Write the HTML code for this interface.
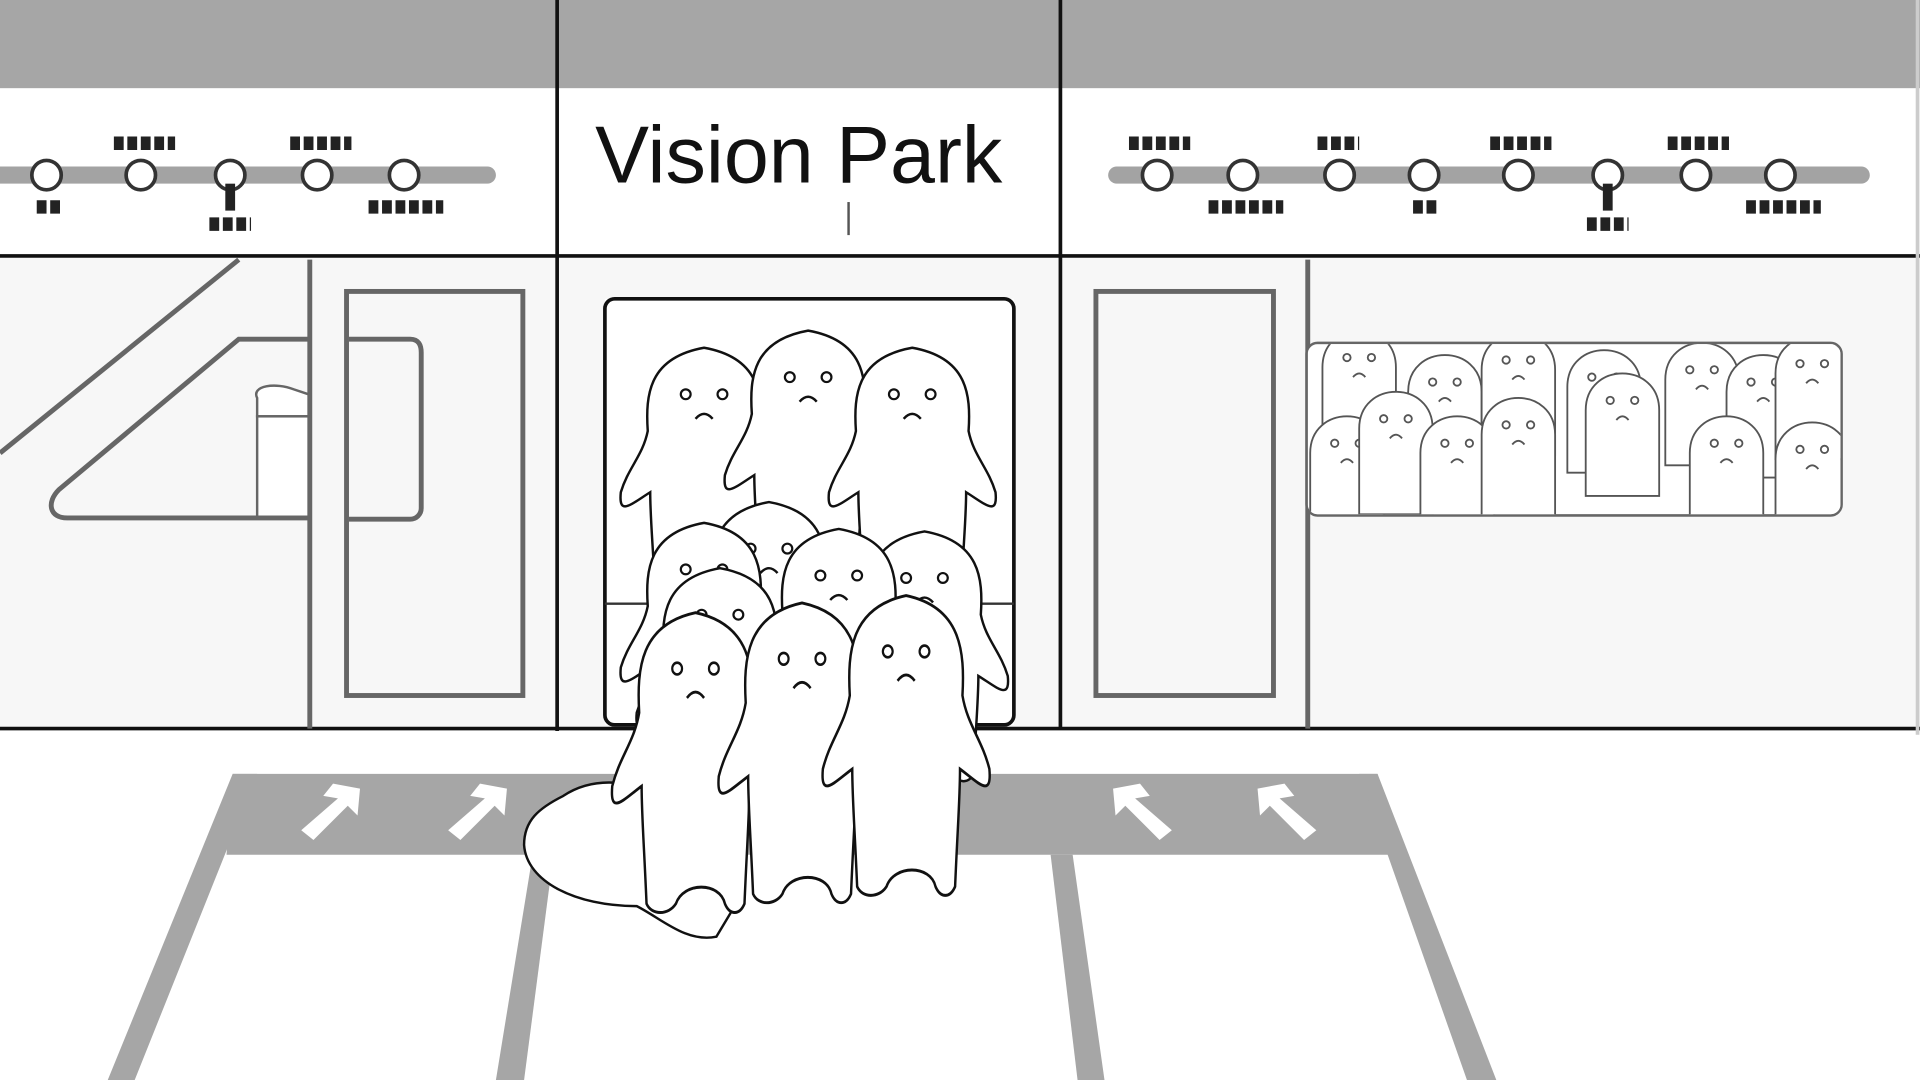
<!DOCTYPE html>
<html><head><meta charset="utf-8"><style>
html,body{margin:0;padding:0;background:#fff;}
svg{display:block;}
</style></head><body>
<svg width="1920" height="1080" viewBox="0 0 1568 882" preserveAspectRatio="none" xmlns="http://www.w3.org/2000/svg">
<defs>
<g id="gh">
<path d="M-40,190 C-42,150 -44,130 -44,110 C-60,120 -70,130 -68,110 C-62,90 -50,80 -46,60 C-48,30 -45,0 0,-8 C45,0 48,30 46,60 C50,80 62,90 68,110 C70,130 60,120 44,110 C44,130 42,150 40,190 C36,198 28,198 24,190 C20,175 -10,175 -16,190 C-22,198 -36,198 -40,190 Z" fill="#fff" stroke="#111" stroke-width="2"/>
<circle cx="-15" cy="30" r="4" fill="none" stroke="#111" stroke-width="1.8"/>
<circle cx="15" cy="30" r="4" fill="none" stroke="#111" stroke-width="1.8"/>
<path d="M-7,50 Q0,42 7,50" fill="none" stroke="#111" stroke-width="2"/>
</g>
<g id="sg">
<path d="M-30,90 L-30,20 C-30,-20 30,-20 30,20 L30,90 Z" fill="#fff" stroke="#555" stroke-width="1.5"/>
<circle cx="-10" cy="12" r="3" fill="none" stroke="#555" stroke-width="1.5"/>
<circle cx="10" cy="12" r="3" fill="none" stroke="#555" stroke-width="1.5"/>
<path d="M-5,28 Q0,22 5,28" fill="none" stroke="#555" stroke-width="1.5"/>
</g>
<g id="ar"><path d="M-22,14 L8,-12 L-4,-14 L4,-24 L26,-20 L24,2 L16,-6 L-12,22 Z" fill="#fff"/></g>
<clipPath id="win"><rect x="1068" y="281" width="435" height="139" rx="8"/></clipPath>
</defs>
<rect width="1568" height="882" fill="#fff"/>
<rect x="0" y="0" width="1568" height="72" fill="#a6a6a6"/>
<rect x="0" y="209" width="1568" height="386" fill="#f7f7f7"/>
<rect x="494" y="244" width="334" height="348" fill="#fff"/>
<line x1="0" y1="143" x2="398" y2="143" stroke="#a3a3a3" stroke-width="14" stroke-linecap="round"/>
<line x1="912" y1="143" x2="1520" y2="143" stroke="#a3a3a3" stroke-width="14" stroke-linecap="round"/>
<g fill="#fff" stroke="#333" stroke-width="3">
<circle cx="38" cy="143" r="12"/><circle cx="115" cy="143" r="12"/><circle cx="188" cy="143" r="12"/><circle cx="259" cy="143" r="12"/><circle cx="330" cy="143" r="12"/>
<circle cx="945" cy="143" r="12"/><circle cx="1015" cy="143" r="12"/><circle cx="1094" cy="143" r="12"/><circle cx="1163" cy="143" r="12"/><circle cx="1240" cy="143" r="12"/><circle cx="1313" cy="143" r="12"/><circle cx="1385" cy="143" r="12"/><circle cx="1454" cy="143" r="12"/>
</g>
<g stroke="#222" stroke-width="11" stroke-dasharray="8,3">
<line x1="93" y1="117" x2="143" y2="117"/><line x1="237" y1="117" x2="287" y2="117"/><line x1="30" y1="169" x2="49" y2="169"/><line x1="171" y1="183" x2="205" y2="183"/><line x1="301" y1="169" x2="362" y2="169"/>
<line x1="922" y1="117" x2="972" y2="117"/><line x1="1076" y1="117" x2="1110" y2="117"/><line x1="1217" y1="117" x2="1267" y2="117"/><line x1="1362" y1="117" x2="1412" y2="117"/><line x1="987" y1="169" x2="1048" y2="169"/><line x1="1154" y1="169" x2="1173" y2="169"/><line x1="1296" y1="183" x2="1330" y2="183"/><line x1="1426" y1="169" x2="1487" y2="169"/>
</g>
<g fill="#222"><rect x="184" y="150" width="8" height="22"/><rect x="1309" y="150" width="8" height="22"/></g>
<text x="486" y="149" font-family="Liberation Sans, sans-serif" font-size="66" fill="#111">Vision Park</text>
<line x1="693" y1="165" x2="693" y2="192" stroke="#555" stroke-width="2"/>
<line x1="0" y1="209" x2="1568" y2="209" stroke="#111" stroke-width="3"/>
<line x1="0" y1="595" x2="1568" y2="595" stroke="#111" stroke-width="3"/>
<line x1="455" y1="0" x2="455" y2="597" stroke="#111" stroke-width="3"/>
<line x1="866" y1="0" x2="866" y2="595" stroke="#111" stroke-width="3"/>
<line x1="1566" y1="0" x2="1566" y2="600" stroke="#ccc" stroke-width="3"/>
<g stroke="#666" stroke-width="4" fill="none">
<line x1="195" y1="212" x2="0" y2="370"/>
<path d="M253,277 L195,277 L48,400 C38,410 40,423 55,423 L253,423"/>
<path d="M285,277 L335,277 C342,277 344,282 344,288 L344,415 C344,420 340,424 335,424 L285,424"/>
<line x1="253" y1="212" x2="253" y2="595"/>
<rect x="283" y="238" width="144" height="330"/>
<line x1="1068" y1="212" x2="1068" y2="595"/>
<rect x="895" y="238" width="145" height="330"/>
<rect x="1068" y="281" width="435" height="139" rx="8"/>
</g>
<path d="M210,325 C205,315 225,312 240,318 L252,322 L252,340 L210,340 Z" fill="#fff" stroke="#666" stroke-width="2"/>
<rect x="210" y="340" width="42" height="82" fill="#fff" stroke="#666" stroke-width="2"/>
<g clip-path="url(#win)">
<rect x="1068" y="281" width="435" height="139" fill="#fff"/>
<use href="#sg" x="1110" y="280"/><use href="#sg" x="1180" y="300"/><use href="#sg" x="1240" y="282"/><use href="#sg" x="1310" y="296"/><use href="#sg" x="1390" y="290"/><use href="#sg" x="1440" y="300"/><use href="#sg" x="1480" y="285"/>
<use href="#sg" x="1100" y="350"/><use href="#sg" x="1140" y="330"/><use href="#sg" x="1190" y="350"/><use href="#sg" x="1240" y="335"/><use href="#sg" x="1325" y="315"/><use href="#sg" x="1410" y="350"/><use href="#sg" x="1480" y="355"/>
</g>
<rect x="494" y="244" width="334" height="348" rx="8" fill="none" stroke="#111" stroke-width="3"/>
<line x1="494" y1="493" x2="828" y2="493" stroke="#333" stroke-width="2"/>
<path d="M190,632 L1125,632 L1140,698 L185,698 Z" fill="#a6a6a6"/>
<path d="M190,632 L210,632 L110,882 L88,882 Z" fill="#a6a6a6"/>
<path d="M435,698 L452,698 L428,882 L405,882 Z" fill="#a6a6a6"/>
<path d="M858,698 L876,698 L902,882 L880,882 Z" fill="#a6a6a6"/>
<path d="M1110,632 L1125,632 L1222,882 L1198,882 Z" fill="#a6a6a6"/>
<use href="#ar" x="268" y="664"/><use href="#ar" x="388" y="664"/>
<use href="#ar" transform="translate(935,664) scale(-1,1)"/><use href="#ar" transform="translate(1053,664) scale(-1,1)"/>
<path d="M460,650 C490,630 530,640 560,660 L600,740 L585,765 C560,770 540,750 520,740 C470,740 430,720 428,690 C428,670 440,660 460,650 Z" fill="#fff" stroke="#111" stroke-width="2"/>
<use href="#gh" x="575" y="292"/><use href="#gh" x="660" y="278"/><use href="#gh" x="745" y="292"/>
<use href="#gh" x="628" y="418"/>
<use href="#gh" x="575" y="435"/><use href="#gh" x="755" y="442"/><use href="#gh" x="685" y="440"/>
<use href="#gh" x="588" y="472"/>
<use href="#gh" transform="translate(568,510) scale(1,1.2)"/><use href="#gh" transform="translate(655,502) scale(1,1.2)"/><use href="#gh" transform="translate(740,496) scale(1,1.2)"/>
</svg>
</body></html>
